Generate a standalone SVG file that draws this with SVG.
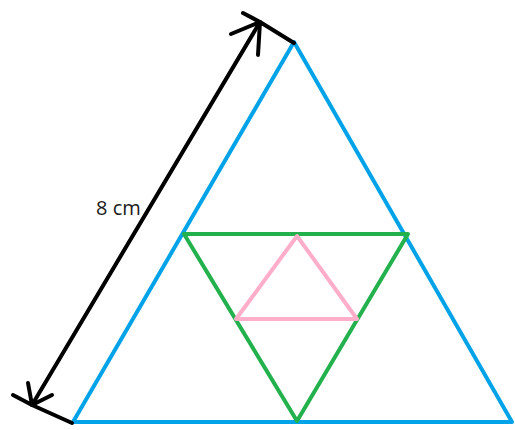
<svg xmlns="http://www.w3.org/2000/svg" width="515" height="430" viewBox="0 0 515 430">
<style>
.s{fill:none;stroke-width:4;stroke-linejoin:round;stroke-linecap:round}
.blue{stroke:#00A2E8}.green{stroke:#22B14C}.pink{stroke:#FFAEC9}
.k{fill:none;stroke:#000;stroke-width:4;stroke-linecap:round}
text{font-family:"Open Sans","Liberation Sans",Arial,sans-serif;font-size:20px;fill:#1a1a1a}
</style>
<rect width="515" height="430" fill="#fff"/>
<g id="outer"><polygon class="s blue" points="294,42 73,422 512,422"/></g>
<g id="middle"><polygon class="s green" points="184,234 408,234 297,421"/></g>
<g id="inner"><polygon class="s pink" points="297,236 236,319 357,319"/></g>
<g id="connectors">
<path class="k" d="M32,405 L260,22"/>
<path class="k" d="M260,22 L231,34 M260,22 L243,13 M260,22 L258,55 M260,22 L294,43"/>
<path class="k" d="M32,405 L28,383 M32,405 L13,395 M32,405 L52,395 M32,405 L72,423"/>
</g>
<g id="label"><text x="96" y="215">8 cm</text></g>
</svg>
